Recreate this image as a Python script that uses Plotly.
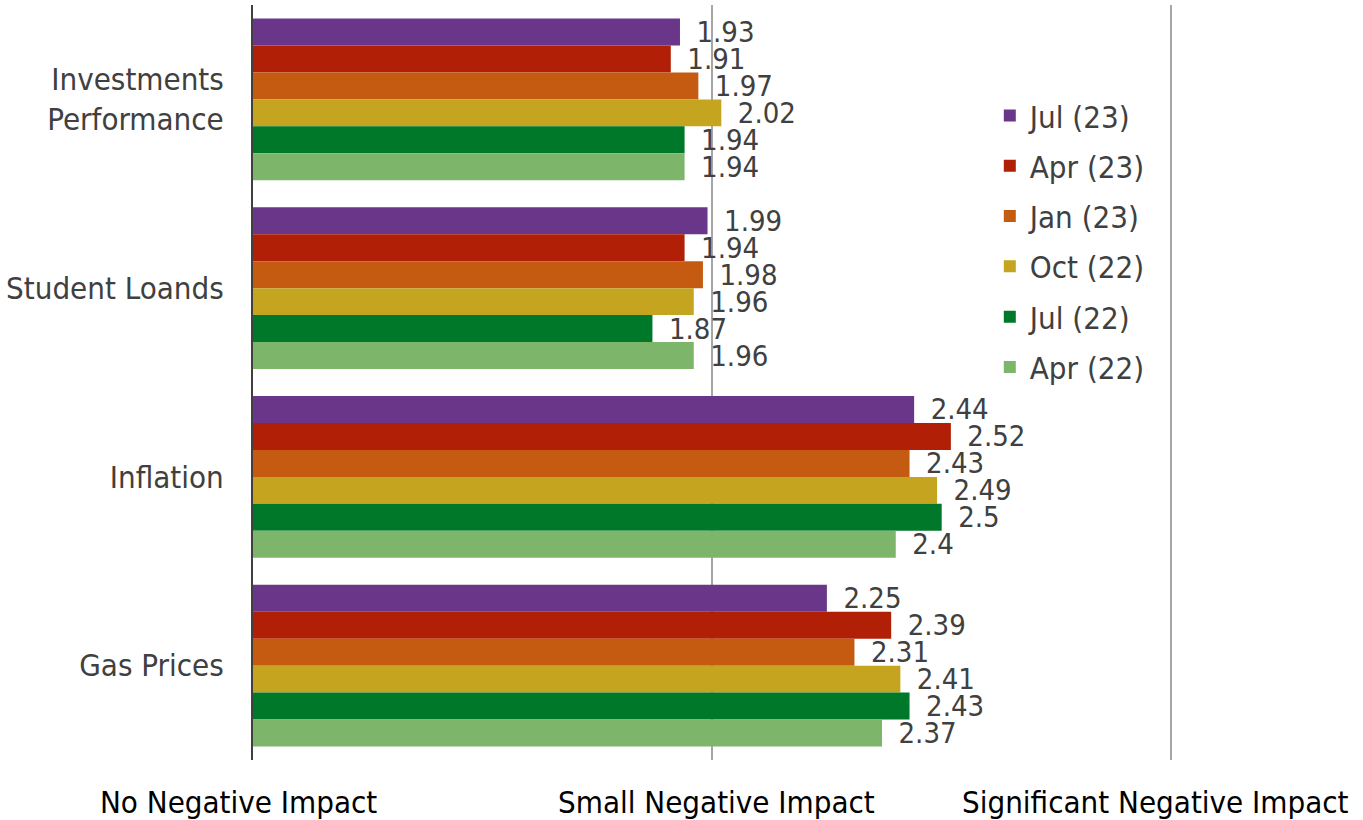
import plotly.graph_objects as go

categories = ["Investments<br>Performance", "Student Loands", "Inflation", "Gas Prices"]
series_names = ["Jul (23)", "Apr (23)", "Jan (23)", "Oct (22)", "Jul (22)", "Apr (22)"]
jul23 = [1.93, 1.99, 2.44, 2.25]
apr23 = [1.91, 1.94, 2.52, 2.39]
jan23 = [1.97, 1.98, 2.43, 2.31]
oct22 = [2.02, 1.96, 2.49, 2.41]
jul22 = [1.94, 1.87, 2.50, 2.43]
apr22 = [1.94, 1.96, 2.40, 2.37]
tick_vals = [1, 2, 3]
tick_text = ["No Negative Impact", "Small Negative Impact", "Significant Negative Impact"]

colors = ["#6A3689", "#B01F06", "#C55A11", "#C5A520", "#00782A", "#7DB66A"]
FONT = "DejaVu Sans Condensed, DejaVu Sans, sans-serif"

fig = go.Figure()
for i, (name, vals) in enumerate(zip(series_names, [jul23, apr23, jan23, oct22, jul22, apr22])):
    fig.add_trace(go.Bar(
        y=categories, x=vals, orientation="h", name=name,
        marker=dict(color=colors[i], line=dict(width=0)),
        text=["\u00a0\u2009" + f"{v:g}" for v in vals],
        textposition="outside", constraintext="none", cliponaxis=False,
        textfont=dict(family=FONT, size=29, color="#404040"),
        legendgroup=f"g{i}",
    ))

# x-axis category labels (positioned like the original, slightly shifted to fit)
label_shifts = [-15, 4, -16]
for v, t, s in zip(tick_vals, tick_text, label_shifts):
    fig.add_annotation(x=v, y=0, xref="x", yref="paper", yshift=-42, xshift=s,
                       text=t, showarrow=False, xanchor="center", yanchor="middle",
                       font=dict(family=FONT, size=31, color="#000000"))

fig.update_layout(
    width=1363, height=820,
    barmode="group", bargap=0.143, bargroupgap=0,
    plot_bgcolor="white", paper_bgcolor="white",
    margin=dict(l=253, r=189, t=5, b=60, autoexpand=False),
    font=dict(family=FONT, size=30, color="#404040"),
    xaxis=dict(range=[1, 3.006], tickvals=tick_vals, ticktext=tick_text, showticklabels=False,
               showgrid=True, gridcolor="#A6A6A6", gridwidth=1.5, zeroline=False,
               showline=False, automargin=False),
    yaxis=dict(autorange="reversed", showline=True, linecolor="#404040", linewidth=2,
               ticks="", ticklabelstandoff=21, showgrid=False, automargin=False,
               tickfont=dict(family=FONT, size=31, color="#404040")),
    legend=dict(x=0.80, y=0.889, xanchor="left", yanchor="top",
                font=dict(family=FONT, size=31, color="#404040"),
                tracegroupgap=7, bgcolor="rgba(0,0,0,0)"),
    showlegend=True,
)

fig.write_html("out.html", config={"displayModeBar": False},
               post_script="document.body.style.margin='0';")
